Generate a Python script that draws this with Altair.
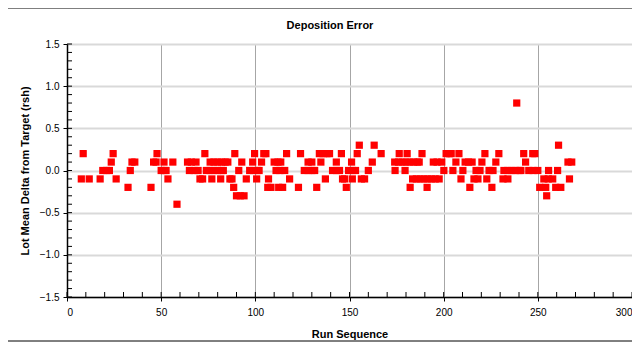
import altair as alt
import pandas as pd

# Run sequence positions of the points, grouped by their lot mean delta (rsh)
runs_p08 = [238.8]
runs_p03 = [155.2, 163.1, 261.0]
runs_p02 = [8.6, 24.5, 47.8, 73.2, 89.1, 99.6, 104.5, 105.6, 116.6, 124.0, 134.0, 136.0,
            138.0, 139.4, 145.7, 154.1, 166.8, 176.4, 180.6, 188.5, 201.3, 203.0, 204.0,
            208.1, 221.9, 229.3, 242.5, 247.3, 248.4]
runs_p01 = [23.5, 34.5, 36.0, 46.0, 47.3, 51.5, 56.2, 64.0, 66.0, 68.5, 76.0, 78.0, 80.0,
            82.0, 84.0, 85.4, 92.8, 98.6, 103.3, 110.0, 112.0, 113.5, 128.0, 130.0, 134.8,
            143.0, 151.1, 162.1, 174.0, 176.0, 178.0, 180.0, 182.0, 184.0, 186.0, 187.0,
            194.5, 196.5, 199.0, 206.5, 211.4, 213.2, 215.1, 220.3, 227.7, 243.5, 266.0, 268.0]
runs_z00 = [19.0, 21.0, 22.5, 33.6, 50.0, 51.5, 52.6, 65.0, 67.5, 69.6, 74.0, 76.0, 78.0,
            80.0, 82.0, 83.0, 91.2, 97.0, 99.0, 101.0, 102.0, 111.0, 113.0, 115.6, 126.0,
            128.0, 130.0, 131.5, 141.0, 143.0, 144.7, 149.5, 151.5, 153.2, 160.0, 174.2,
            179.5, 200.1, 204.9, 210.2, 217.2, 219.3, 224.1, 226.2, 232.0, 234.0, 236.0,
            238.0, 240.0, 241.0, 245.2, 247.5, 250.0, 255.7, 260.5]
runs_m01 = [7.6, 11.8, 17.6, 26.1, 53.6, 70.6, 72.0, 76.9, 81.6, 86.5, 87.6, 95.2, 100.7,
            107.0, 118.2, 137.2, 146.3, 147.4, 151.5, 156.3, 158.0, 183.5, 185.5, 187.5,
            189.5, 191.5, 193.5, 195.5, 197.6, 209.2, 216.1, 218.2, 222.9, 231.5, 234.1,
            253.2, 255.5, 257.9, 266.8]
runs_m02 = [32.4, 44.6, 88.5, 106.6, 108.3, 112.4, 114.5, 122.9, 132.6, 148.3, 182.2,
            191.2, 213.9, 225.6, 251.0, 254.2, 259.5, 262.2]
runs_m03 = [90.0, 92.0, 94.0, 254.7]
runs_m04 = [58.4]

levels = [0.8, 0.3, 0.2, 0.1, 0.0, -0.1, -0.2, -0.3, -0.4]
groups = [runs_p08, runs_p03, runs_p02, runs_p01, runs_z00, runs_m01, runs_m02, runs_m03, runs_m04]

x_ticks = [0, 50, 100, 150, 200, 250, 300]
y_ticks = [-1.5, -1.0, -0.5, 0.0, 0.5, 1.0, 1.5]
x_minor = list(range(0, 301, 10))
y_minor = [round(-1.5 + 0.1 * i, 1) for i in range(31)]

title_text = "Deposition Error"

rows = []
for lev, runs in zip(levels, groups):
    for r in runs:
        rows.append({"run": r, "delta": lev})
df = pd.DataFrame(rows)

W, H = 565, 253
FONT = "Liberation Sans"

xscale = alt.Scale(domain=[0, 300], nice=False, zero=False)
yscale = alt.Scale(domain=[-1.5, 1.5], nice=False, zero=False)

points = alt.Chart(df).mark_square(size=52, color="#ff0000", opacity=1).encode(
    x=alt.X("run:Q", scale=xscale,
            axis=alt.Axis(values=x_ticks, title="Run Sequence", grid=True,
                          gridColor="#a6a6a6", gridWidth=1,
                          domainColor="#000000", domainWidth=1.5,
                          tickColor="#000000", tickSize=4, tickWidth=1,
                          labelFont=FONT, labelFontSize=10, labelColor="#000000",
                          labelPadding=6,
                          titleFont=FONT, titleFontSize=11, titleFontWeight="bold",
                          titleColor="#000000", titleBaseline="middle", titleY=37)),
    y=alt.Y("delta:Q", scale=yscale,
            axis=alt.Axis(values=y_ticks, format=".1f",
                          title="Lot Mean Delta from Target (rsh)", grid=True,
                          gridColor="#d9d9d9", gridWidth=2,
                          domainColor="#000000", domainWidth=1.5,
                          tickColor="#000000", tickSize=4, tickWidth=1,
                          labelFont=FONT, labelFontSize=10, labelColor="#000000",
                          labelPadding=4,
                          titleFont=FONT, titleFontSize=11, titleFontWeight="bold",
                          titleColor="#000000", titleX=-42, titleY=H / 2,
                          titleBaseline="middle")),
)

xminor = alt.Chart(pd.DataFrame({"t": x_minor})).mark_rule(color="#000000", strokeWidth=1).encode(
    x=alt.X("t:Q", scale=xscale),
    y=alt.value(H),
    y2=alt.value(H - 5),
)
yminor = alt.Chart(pd.DataFrame({"t": y_minor})).mark_rule(color="#000000", strokeWidth=1).encode(
    y=alt.Y("t:Q", scale=yscale),
    x=alt.value(0),
    x2=alt.value(5),
)
border = alt.Chart(pd.DataFrame({"a": [1]})).mark_rect(
    fill="transparent", stroke="#000000", strokeWidth=1
).encode(
    x=alt.value(-60), x2=alt.value(580), y=alt.value(-36), y2=alt.value(H + 44)
)
title = alt.Chart(pd.DataFrame({"label": [title_text]})).mark_text(
    font=FONT, fontSize=11, fontWeight="bold", color="#000000",
    align="center", baseline="middle"
).encode(
    text="label:N", x=alt.value(263), y=alt.value(-18)
)

chart = alt.layer(border, points, xminor, yminor, title).properties(
    width=W, height=H,
    autosize=alt.AutoSizeParams(type="none"),
    padding={"left": 59, "top": 36, "right": 0, "bottom": 45},
    background="#ffffff",
).configure_view(stroke="#a6a6a6", strokeWidth=1)

chart.save("out.html", embed_options={"renderer": "svg", "actions": False})
